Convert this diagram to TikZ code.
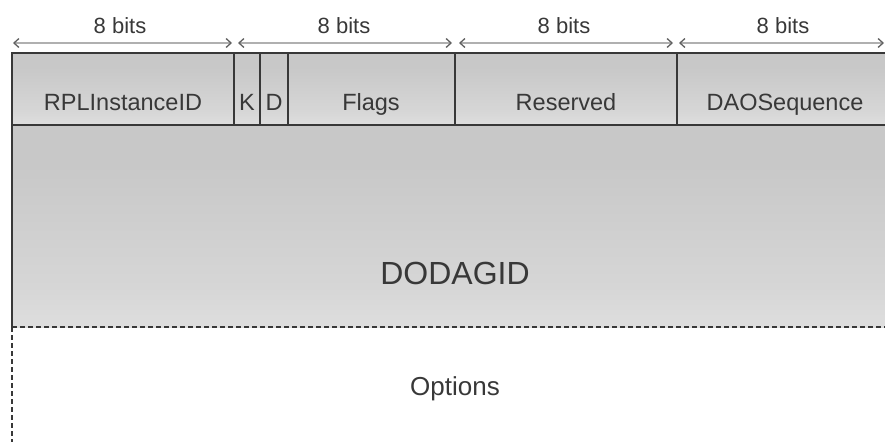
\documentclass[tikz,border=0pt]{standalone}
\usepackage{fontspec}
\setmainfont{Liberation Sans}
\usetikzlibrary{arrows.meta}
\definecolor{fieldtop}{HTML}{C8C8C8}
\definecolor{fieldmid}{HTML}{D6D6D6}
\definecolor{fieldlow}{HTML}{F2F2F2}
\definecolor{inkgray}{HTML}{383838}
\definecolor{spangray}{HTML}{B0B0B0}
\pgfdeclareverticalshading{fieldshade}{100bp}{color(0bp)=(fieldlow); color(35bp)=(fieldmid); color(65bp)=(fieldtop); color(100bp)=(fieldtop)}
\tikzset{
  field/.style={shading=fieldshade, draw=none},
  rule/.style={draw=inkgray, line width=1.4pt},
  dashrule/.style={draw=inkgray, line width=1.3pt, dash pattern=on 5pt off 3pt},
  span/.style={draw=spangray, line width=2.2pt,
    {Straight Barb[length=5pt,width=9pt,line width=1.3pt,color=inkgray!80]}-{Straight Barb[length=5pt,width=9pt,line width=1.3pt,color=inkgray!80]}},
  spanlbl/.style={text=inkgray, font=\fontsize{22}{24}\selectfont, anchor=base},
  hdr/.style={text=inkgray, font=\fontsize{23.5}{26}\selectfont, anchor=base},
}
\begin{document}
\begin{tikzpicture}[x=1pt,y=-1pt]
\useasboundingbox (0,0) rectangle (885,442);
% shaded field backgrounds
\fill[field] (12,53) rectangle (234,125);
\fill[field] (234,53) rectangle (260,125);
\fill[field] (260,53) rectangle (288,125);
\fill[field] (288,53) rectangle (455,125);
\fill[field] (455,53) rectangle (677,125);
\fill[field] (677,53) rectangle (885,125);
\fill[field] (12,125) rectangle (885,327);
% outlines and field dividers
\draw[rule] (12,53) -- (885,53);
\draw[rule] (12,125) -- (885,125);
\draw[rule] (12,52.3) -- (12,327);
\foreach \xd in {234,260,288,455,677}
  \draw[rule] (\xd,53) -- (\xd,125);
\draw[dashrule] (12,327) -- (885,327);
\draw[dashrule] (12,327) -- (12,442);
% byte spans
\coordinate (s1a) at (13,43);  \coordinate (s1b) at (232,43);
\coordinate (s2a) at (238,43); \coordinate (s2b) at (452,43);
\coordinate (s3a) at (459,43); \coordinate (s3b) at (673,43);
\coordinate (s4a) at (679,43); \coordinate (s4b) at (884,43);
\draw[span] (s1a) -- (s1b);
\draw[span] (s2a) -- (s2b);
\draw[span] (s3a) -- (s3b);
\draw[span] (s4a) -- (s4b);
\node[spanlbl] (b1) at (120,33) {8 bits};
\node[spanlbl] (b2) at (344,33) {8 bits};
\node[spanlbl] (b3) at (564,33) {8 bits};
\node[spanlbl] (b4) at (783,33) {8 bits};
% field names
\node[hdr] (rpl) at (123,110) {RPLInstanceID};
\node[hdr] (kf) at (247,110) {K};
\node[hdr] (df) at (274,110) {D};
\node[hdr] (flags) at (371,110) {Flags};
\node[hdr] (res) at (566,110) {Reserved};
\node[hdr] (dao) at (785,110) {DAOSequence};
\node[text=inkgray, font=\fontsize{32}{36}\selectfont, anchor=base] (dodag) at (455,284) {DODAGID};
\node[text=inkgray, font=\fontsize{26}{30}\selectfont, anchor=base] (opts) at (455,395) {Options};
\end{tikzpicture}
\end{document}
